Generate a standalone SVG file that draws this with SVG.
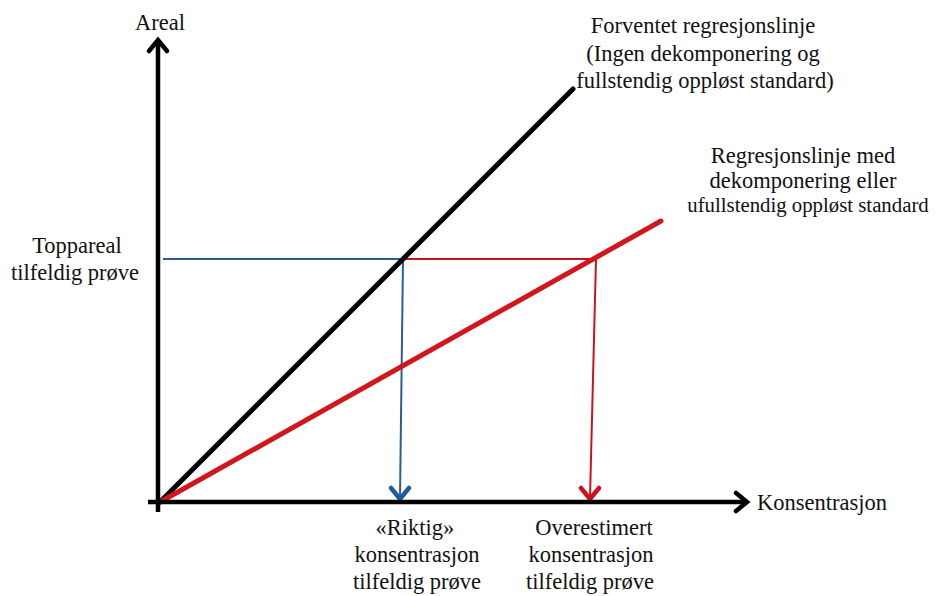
<svg xmlns="http://www.w3.org/2000/svg" width="936" height="596" viewBox="0 0 936 596">
<style>
text{font-family:"Liberation Serif","Times New Roman",serif;font-size:22.5px;fill:#111;text-anchor:middle}
.axis{stroke:#000;stroke-width:4.5;fill:none}
.head{fill:none;stroke-width:4.5;stroke-linecap:round;stroke-linejoin:miter}
</style>
<rect width="936" height="596" fill="#fff"/>
<g id="connectors">
  <line x1="163" y1="259" x2="403" y2="259" stroke="#2A5C9A" stroke-width="2"/>
  <line x1="403" y1="259" x2="400" y2="498" stroke="#2A5C9A" stroke-width="2"/>
  <polyline class="head" stroke="#1F5BA0" points="391,488 400,499 409,488"/>
  <line x1="403" y1="259" x2="596" y2="259" stroke="#C8141C" stroke-width="2"/>
  <line x1="596" y1="259" x2="590" y2="498" stroke="#C8141C" stroke-width="2"/>
  <polyline class="head" stroke="#D0101A" points="581,488 590,499 599,488"/>
  <line x1="160" y1="502" x2="573" y2="89" stroke="#000" stroke-width="5" stroke-linecap="round"/>
  <line x1="160" y1="502" x2="661" y2="221" stroke="#D3161C" stroke-width="5" stroke-linecap="round"/>
</g>
<g id="y-axis">
  <line class="axis" x1="158" y1="512" x2="158" y2="40"/>
  <polyline class="head" stroke="#000" points="149,51 158,40 167,51"/>
  <text x="160" y="30">Areal</text>
</g>
<g id="x-axis">
  <line class="axis" x1="148" y1="502" x2="747" y2="502"/>
  <polyline class="head" stroke="#000" points="736,493 747,502 736,511"/>
  <text x="757" y="510" style="text-anchor:start">Konsentrasjon</text>
</g>
<g id="label-expected">
  <text x="703" y="33">Forventet regresjonslinje</text>
  <text x="703" y="61">(Ingen dekomponering og</text>
  <text x="705" y="88">fullstendig oppløst standard)</text>
</g>
<g id="label-decomp">
  <text x="803" y="163">Regresjonslinje med</text>
  <text x="803" y="188">dekomponering eller</text>
  <text x="808" y="212" style="font-size:20.8px">ufullstendig oppløst standard</text>
</g>
<g id="label-peak">
  <text x="77" y="253">Toppareal</text>
  <text x="75" y="280">tilfeldig prøve</text>
</g>
<g id="label-correct">
  <text x="415" y="535">«Riktig»</text>
  <text x="417" y="562">konsentrasjon</text>
  <text x="417" y="589">tilfeldig prøve</text>
</g>
<g id="label-over">
  <text x="594" y="535">Overestimert</text>
  <text x="591" y="562">konsentrasjon</text>
  <text x="590" y="589">tilfeldig prøve</text>
</g>
</svg>
